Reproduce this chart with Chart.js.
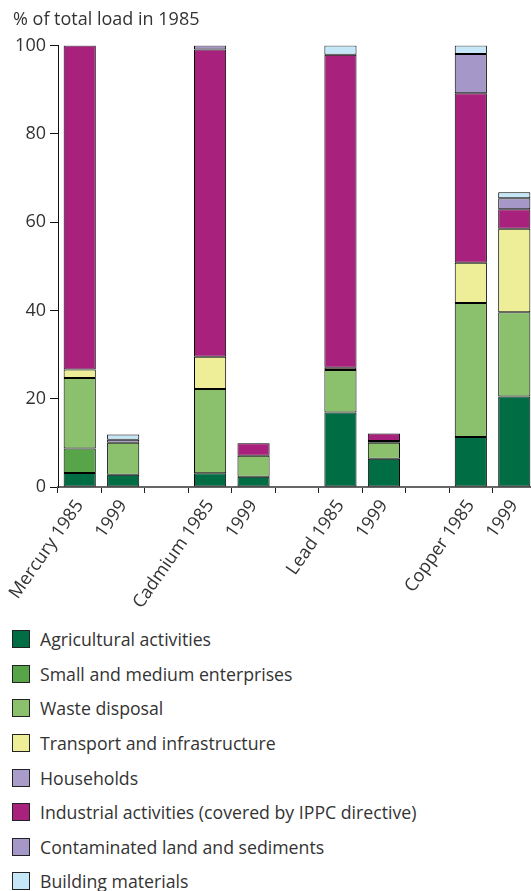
<!DOCTYPE html>
<html>
<head>
<meta charset="utf-8">
<script src="https://cdn.jsdelivr.net/npm/chart.js@4.4.1/dist/chart.umd.min.js"></script>
<style>
  body { margin: 0; overflow: hidden; background: #fff; font-family: "Open Sans", sans-serif; color: #333; }
  #wrap { position: relative; width: 536px; height: 620px; }
  #legend { position: absolute; left: 12px; top: 622px; margin: 0; padding: 0; list-style: none; }
  #legend li { height: 34.6px; display: flex; align-items: center; font-size: 17.7px; color: #333; }
  #legend .box { width: 18px; height: 18px; border: 1px solid #222; margin-right: 10px; box-sizing: border-box; }
</style>
</head>
<body>
<div id="wrap"><canvas id="chart"></canvas></div>
<ul id="legend"></ul>
<script>
// categories (blank ones are the gaps between metals)
const categories = ['Mercury 1985', '1999', '', 'Cadmium 1985', '1999', '', 'Lead 1985', '1999', '', 'Copper 1985', '1999'];

// % of total load in 1985, per source
const agricultural = [3.2, 2.8, null, 3.1, 2.3, null, 16.9, 6.4, null, 11.3, 20.5];
const smallMedium  = [5.5, null, null, null, null, null, null, null, null, null, null];
const wasteDisposal = [16.0, 7.2, null, 19.1, 4.8, null, 9.6, 3.6, null, 30.4, 19.1];
const transport    = [1.9, null, null, 7.3, null, null, 0.5, 0.4, null, 9.1, 18.9];
const households   = [null, null, null, null, null, null, null, null, null, null, null];
const industrial   = [73.4, null, null, 69.6, 2.8, null, 70.9, 1.7, null, 38.4, 4.4];
const contaminated = [null, 0.7, null, 0.9, null, null, null, null, null, 8.9, 2.5];
const building     = [null, 1.2, null, null, null, null, 2.1, null, null, 1.9, 1.4];

const yTicks = [0, 20, 40, 60, 80, 100];

const series = [
  { label: 'Agricultural activities', data: agricultural, color: '#006d45' },
  { label: 'Small and medium enterprises', data: smallMedium, color: '#57a548' },
  { label: 'Waste disposal', data: wasteDisposal, color: '#8bc06c' },
  { label: 'Transport and infrastructure', data: transport, color: '#eeed98' },
  { label: 'Households', data: households, color: '#a99ccb' },
  { label: 'Industrial activities (covered by IPPC directive)', data: industrial, color: '#a8217c' },
  { label: 'Contaminated land and sediments', data: contaminated, color: '#a597c7' },
  { label: 'Building materials', data: building, color: '#c5e7f7' }
];

const font = { family: '"Open Sans", sans-serif', size: 18 };

const chart = new Chart(document.getElementById('chart'), {
  type: 'bar',
  data: {
    labels: categories,
    datasets: series.map(s => ({
      label: s.label,
      data: s.data,
      backgroundColor: s.color,
      borderColor: '#000',
      borderWidth: 1,
      borderSkipped: false,
      barPercentage: 0.74,
      categoryPercentage: 1
    }))
  },
  options: {
    responsive: true,
    maintainAspectRatio: false,
    animation: false,
    layout: { padding: { left: 13, right: 0, top: 0, bottom: 0 } },
    plugins: {
      legend: { display: false },
      tooltip: { enabled: false },
      title: {
        display: true,
        text: '% of total load in 1985',
        align: 'start',
        color: '#333',
        font: { ...font, weight: 'normal' },
        padding: { top: 9, bottom: 15 }
      }
    },
    scales: {
      x: {
        stacked: true,
        afterFit: s => { s.height = 133; },
        border: { color: '#666', width: 2 },
        grid: { offset: true, drawOnChartArea: false, tickLength: 6, color: '#222' },
        ticks: { color: '#333', font, autoSkip: false, minRotation: 55, maxRotation: 55, padding: 3 }
      },
      y: {
        stacked: true,
        min: 0,
        max: 100,
        afterFit: s => { s.width = 45; },
        afterBuildTicks: s => { s.ticks = yTicks.map(v => ({ value: v })); },
        border: { color: '#111', width: 1 },
        grid: { drawOnChartArea: false, tickLength: 8, color: '#111' },
        ticks: { color: '#333', font, padding: 4 }
      }
    }
  }
});

// single-column legend underneath, built from the same series
const legendEl = document.getElementById('legend');
series.forEach(s => {
  const li = document.createElement('li');
  const box = document.createElement('span');
  box.className = 'box';
  box.style.background = s.color;
  li.appendChild(box);
  li.appendChild(document.createTextNode(s.label));
  legendEl.appendChild(li);
});
</script>
</body>
</html>
